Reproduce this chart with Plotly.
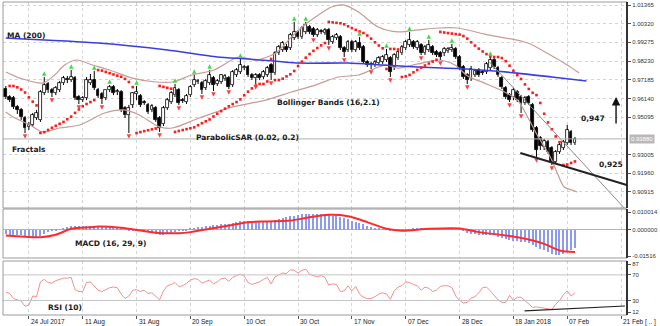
import plotly.graph_objects as go

# ---------------- data ----------------
bar_open = [
    0.9667, 0.9622, 0.9617, 0.9566, 0.9550, 0.9505, 0.9455, 0.9466, 0.9505, 0.9494,
    0.9645, 0.9695, 0.9661, 0.9645, 0.9661, 0.9700, 0.9723, 0.9717, 0.9728, 0.9622,
    0.9605, 0.9617, 0.9700, 0.9717, 0.9661, 0.9639, 0.9617, 0.9661, 0.9678, 0.9650,
    0.9650, 0.9561, 0.9522, 0.9578, 0.9639, 0.9628, 0.9594, 0.9578, 0.9550, 0.9561,
    0.9505, 0.9471, 0.9561, 0.9594, 0.9633, 0.9661, 0.9605, 0.9594, 0.9633, 0.9689,
    0.9706, 0.9700, 0.9673, 0.9700, 0.9728, 0.9695, 0.9706, 0.9723, 0.9728, 0.9689,
    0.9745, 0.9762, 0.9784, 0.9790, 0.9745, 0.9728, 0.9745, 0.9734, 0.9745, 0.9801,
    0.9756, 0.9868, 0.9885, 0.9902, 0.9896, 0.9952, 0.9986, 0.9958, 0.9986, 1.0014,
    1.0002, 0.9969, 0.9991, 0.9980, 0.9997, 0.9930, 0.9952, 0.9958, 0.9896, 0.9885,
    0.9930, 0.9885, 0.9924, 0.9902, 0.9818, 0.9807, 0.9801, 0.9812, 0.9818, 0.9829,
    0.9840, 0.9790, 0.9840, 0.9868, 0.9896, 0.9913, 0.9930, 0.9896, 0.9913, 0.9868,
    0.9885, 0.9902, 0.9874, 0.9868, 0.9868, 0.9879, 0.9885, 0.9891, 0.9846, 0.9790,
    0.9745, 0.9728, 0.9745, 0.9773, 0.9762, 0.9762, 0.9784, 0.9829, 0.9784, 0.9728,
    0.9673, 0.9633, 0.9622, 0.9650, 0.9622, 0.9589, 0.9622, 0.9578, 0.9449, 0.9393,
    0.9343, 0.9371, 0.9337, 0.9259, 0.9315, 0.9337, 0.9365, 0.9427, 0.9365,
]
bar_high = [
    0.9684, 0.9633, 0.9628, 0.9578, 0.9561, 0.9516, 0.9483, 0.9533, 0.9550, 0.9661,
    0.9734, 0.9706, 0.9673, 0.9684, 0.9712, 0.9740, 0.9740, 0.9773, 0.9740, 0.9633,
    0.9628, 0.9734, 0.9751, 0.9768, 0.9673, 0.9650, 0.9661, 0.9689, 0.9689, 0.9667,
    0.9661, 0.9572, 0.9578, 0.9650, 0.9684, 0.9639, 0.9605, 0.9589, 0.9583, 0.9572,
    0.9516, 0.9572, 0.9617, 0.9656, 0.9695, 0.9673, 0.9617, 0.9639, 0.9689, 0.9745,
    0.9723, 0.9712, 0.9723, 0.9773, 0.9740, 0.9723, 0.9748, 0.9751, 0.9740, 0.9773,
    0.9784, 0.9835, 0.9801, 0.9801, 0.9756, 0.9756, 0.9756, 0.9773, 0.9796, 0.9812,
    0.9879, 0.9913, 0.9935, 0.9919, 0.9980, 1.0042, 0.9997, 1.0019, 1.0042, 1.0025,
    1.0014, 1.0008, 1.0002, 1.0008, 1.0008, 0.9969, 0.9980, 0.9969, 0.9907, 0.9941,
    0.9941, 0.9941, 0.9958, 0.9913, 0.9829, 0.9818, 0.9829, 0.9851, 0.9857, 0.9891,
    0.9851, 0.9868, 0.9885, 0.9913, 0.9941, 0.9986, 0.9941, 0.9941, 0.9924, 0.9913,
    0.9941, 0.9913, 0.9885, 0.9879, 0.9902, 0.9902, 0.9919, 0.9902, 0.9857, 0.9801,
    0.9756, 0.9796, 0.9779, 0.9784, 0.9773, 0.9818, 0.9846, 0.9840, 0.9796, 0.9740,
    0.9684, 0.9645, 0.9673, 0.9661, 0.9633, 0.9628, 0.9633, 0.9589, 0.9460, 0.9404,
    0.9388, 0.9382, 0.9348, 0.9326, 0.9365, 0.9382, 0.9466, 0.9438, 0.9399,
]
bar_low = [
    0.9611, 0.9594, 0.9555, 0.9527, 0.9494, 0.9421, 0.9438, 0.9455, 0.9494, 0.9483,
    0.9633, 0.9645, 0.9622, 0.9633, 0.9650, 0.9689, 0.9700, 0.9706, 0.9605, 0.9583,
    0.9594, 0.9605, 0.9689, 0.9661, 0.9617, 0.9583, 0.9605, 0.9650, 0.9633, 0.9633,
    0.9538, 0.9505, 0.9421, 0.9561, 0.9605, 0.9566, 0.9578, 0.9527, 0.9538, 0.9483,
    0.9427, 0.9460, 0.9550, 0.9583, 0.9622, 0.9578, 0.9589, 0.9583, 0.9622, 0.9678,
    0.9695, 0.9639, 0.9661, 0.9689, 0.9656, 0.9684, 0.9695, 0.9712, 0.9667, 0.9678,
    0.9734, 0.9751, 0.9773, 0.9734, 0.9717, 0.9695, 0.9717, 0.9723, 0.9734, 0.9717,
    0.9745, 0.9857, 0.9874, 0.9874, 0.9885, 0.9941, 0.9947, 0.9947, 0.9974, 0.9974,
    0.9958, 0.9958, 0.9974, 0.9969, 0.9913, 0.9919, 0.9941, 0.9885, 0.9846, 0.9874,
    0.9874, 0.9874, 0.9885, 0.9807, 0.9790, 0.9779, 0.9790, 0.9801, 0.9807, 0.9818,
    0.9734, 0.9773, 0.9829, 0.9857, 0.9885, 0.9902, 0.9891, 0.9885, 0.9857, 0.9857,
    0.9874, 0.9857, 0.9846, 0.9829, 0.9851, 0.9868, 0.9874, 0.9835, 0.9773, 0.9723,
    0.9695, 0.9712, 0.9734, 0.9734, 0.9745, 0.9751, 0.9773, 0.9779, 0.9734, 0.9667,
    0.9611, 0.9594, 0.9605, 0.9594, 0.9533, 0.9578, 0.9578, 0.9427, 0.9287, 0.9326,
    0.9326, 0.9304, 0.9242, 0.9248, 0.9304, 0.9326, 0.9354, 0.9354, 0.9354,
]
bar_close = [
    0.9622, 0.9605, 0.9566, 0.9550, 0.9510, 0.9449, 0.9466, 0.9522, 0.9533, 0.9650,
    0.9689, 0.9661, 0.9645, 0.9673, 0.9700, 0.9728, 0.9717, 0.9734, 0.9617, 0.9605,
    0.9617, 0.9717, 0.9717, 0.9673, 0.9628, 0.9611, 0.9661, 0.9678, 0.9645, 0.9656,
    0.9550, 0.9522, 0.9561, 0.9645, 0.9650, 0.9578, 0.9589, 0.9538, 0.9572, 0.9494,
    0.9449, 0.9561, 0.9605, 0.9645, 0.9673, 0.9589, 0.9600, 0.9628, 0.9678, 0.9717,
    0.9712, 0.9661, 0.9712, 0.9745, 0.9689, 0.9712, 0.9745, 0.9740, 0.9678, 0.9762,
    0.9773, 0.9801, 0.9790, 0.9745, 0.9728, 0.9745, 0.9728, 0.9762, 0.9784, 0.9756,
    0.9868, 0.9902, 0.9924, 0.9885, 0.9969, 0.9986, 0.9958, 1.0008, 1.0025, 0.9986,
    0.9969, 0.9997, 0.9986, 0.9997, 0.9941, 0.9958, 0.9969, 0.9896, 0.9874, 0.9930,
    0.9885, 0.9930, 0.9896, 0.9818, 0.9801, 0.9801, 0.9818, 0.9840, 0.9846, 0.9857,
    0.9762, 0.9857, 0.9874, 0.9902, 0.9930, 0.9941, 0.9902, 0.9930, 0.9868, 0.9902,
    0.9913, 0.9868, 0.9857, 0.9846, 0.9891, 0.9891, 0.9896, 0.9846, 0.9784, 0.9734,
    0.9717, 0.9779, 0.9768, 0.9745, 0.9756, 0.9807, 0.9829, 0.9790, 0.9745, 0.9678,
    0.9622, 0.9605, 0.9661, 0.9605, 0.9589, 0.9617, 0.9589, 0.9438, 0.9326, 0.9348,
    0.9376, 0.9315, 0.9259, 0.9315, 0.9354, 0.9371, 0.9438, 0.9365, 0.9388,
]
bar_index = list(range(1, len(bar_close) + 1))

date_labels = ["24 Jul 2017", "11 Aug", "31 Aug", "20 Sep", "10 Oct", "30 Oct",
               "17 Nov", "07 Dec", "28 Dec", "18 Jan 2018", "07 Feb", "21 Feb [ .. ]"]
date_label_index = [7, 21, 35, 49, 63, 77, 91, 105, 119, 133, 147, 161]

ma200_index = [1, 25, 43, 56, 64, 77, 90, 99, 108, 121, 134, 143, 152]
ma200_value = [0.9952, 0.9924, 0.9885, 0.9846, 0.9835, 0.9812, 0.9812, 0.9801,
               0.9790, 0.9779, 0.9756, 0.9734, 0.9712]

bb_upper_index = [1, 4.7, 10.6, 13.7, 16.3, 19.4, 23.6, 28, 33.9, 40.1, 44.3, 49.4,
                  55.1, 61.6, 66, 71.2, 75.3, 79, 82.3, 85.7, 88.8, 92.7, 97.8, 103,
                  108.2, 113.4, 118.5, 125.5, 136.7, 142.6, 147, 150.1]
bb_upper_value = [0.9762, 0.9728, 0.9700, 0.9745, 0.9801, 0.9829, 0.9801, 0.9773,
                  0.9728, 0.9706, 0.9706, 0.9745, 0.9773, 0.9846, 0.9829, 0.9868,
                  0.9958, 1.0030, 1.0081, 1.0125, 1.0137, 1.0097, 1.0014, 0.9986,
                  0.9997, 1.0008, 1.0008, 0.9974, 0.9924, 0.9857, 0.9801, 0.9756]
bb_lower_index = [1, 2.9, 7.3, 10.6, 15, 20.2, 26.7, 31.8, 35.7, 40.9, 44.3, 51.3,
                  59.8, 68.6, 75.3, 81.5, 87.5, 92.7, 96, 99.7, 103, 108.2, 113.4,
                  117.8, 121.1, 125.5, 130.7, 134.1, 136.7, 139.2, 142.6, 144.4,
                  146.2, 148.3, 149.6]
bb_lower_value = [0.9538, 0.9510, 0.9466, 0.9427, 0.9449, 0.9466, 0.9533, 0.9550,
                  0.9522, 0.9455, 0.9449, 0.9505, 0.9566, 0.9605, 0.9650, 0.9689,
                  0.9734, 0.9745, 0.9773, 0.9801, 0.9784, 0.9807, 0.9829, 0.9801,
                  0.9740, 0.9700, 0.9650, 0.9605, 0.9510, 0.9410, 0.9287, 0.9197,
                  0.9119, 0.9102, 0.9091]

macd_hist = [
    -0.0028, -0.0029, -0.0030, -0.0032, -0.0034, -0.0040, -0.0046, -0.0048, -0.0046, -0.0036,
    -0.0024, -0.0016, -0.0010, -0.0005, 0.0002, 0.0009, 0.0015, 0.0020, 0.0021, 0.0022,
    0.0020, 0.0021, 0.0022, 0.0020, 0.0018, 0.0015, 0.0013, 0.0012, 0.0011, 0.0010,
    0.0006, 0.0000, -0.0004, -0.0006, -0.0005, -0.0008, -0.0010, -0.0015, -0.0019, -0.0025,
    -0.0032, -0.0030, -0.0024, -0.0018, -0.0012, -0.0010, -0.0008, -0.0004, 0.0003, 0.0010,
    0.0014, 0.0015, 0.0018, 0.0022, 0.0023, 0.0025, 0.0029, 0.0032, 0.0033, 0.0036,
    0.0044, 0.0047, 0.0048, 0.0046, 0.0044, 0.0043, 0.0043, 0.0045, 0.0047, 0.0048,
    0.0053, 0.0059, 0.0065, 0.0070, 0.0075, 0.0080, 0.0082, 0.0086, 0.0090, 0.0091,
    0.0090, 0.0089, 0.0088, 0.0087, 0.0083, 0.0080, 0.0076, 0.0070, 0.0064, 0.0058,
    0.0050, 0.0045, 0.0038, 0.0030, 0.0022, 0.0015, 0.0010, 0.0006, 0.0002, -0.0002,
    -0.0008, -0.0009, -0.0008, -0.0005, -0.0002, 0.0002, 0.0005, 0.0006, 0.0006, 0.0006,
    0.0007, 0.0007, 0.0007, 0.0006, 0.0007, 0.0008, 0.0008, 0.0005, -0.0002, -0.0010,
    -0.0020, -0.0026, -0.0028, -0.0030, -0.0030, -0.0029, -0.0030, -0.0034, -0.0040, -0.0048,
    -0.0055, -0.0062, -0.0065, -0.0068, -0.0070, -0.0073, -0.0078, -0.0088, -0.0102, -0.0112,
    -0.0120, -0.0128, -0.0138, -0.0146, -0.0143, -0.0138, -0.0125, -0.0118, -0.0108,
]
macd_signal_index = [1, 10, 14, 18, 23, 25, 31, 36, 40, 46, 49, 54, 59, 64, 69, 75,
                     80, 85, 90, 95, 100, 104, 111, 119, 124, 131, 137, 141, 145, 149]
macd_signal_value = [-0.0034, -0.0044, -0.0030, 0.0004, 0.0013, 0.0017, 0.0010,
                     -0.0006, -0.0019, -0.0021, -0.0015, 0.0004, 0.0023, 0.0042,
                     0.0046, 0.0051, 0.0070, 0.0084, 0.0076, 0.0042, 0.0004, -0.0007,
                     0.0004, 0.0006, -0.0015, -0.0034, -0.0057, -0.0082, -0.0120, -0.0129]

rsi_values = [
    43, 41, 33, 31, 29, 21, 23, 37, 36, 59,
    63, 58, 57, 61, 63, 65, 65, 66, 47, 44,
    44, 58, 59, 52, 46, 44, 47, 50, 51, 50,
    40, 33, 37, 46, 47, 44, 46, 41, 42, 36,
    31, 45, 53, 55, 58, 52, 53, 57, 62, 64,
    63, 57, 60, 62, 56, 59, 64, 65, 60, 66,
    69, 71, 68, 58, 55, 57, 59, 63, 66, 56,
    67, 70, 73, 72, 78, 77, 73, 77, 79, 71,
    69, 67, 69, 66, 54, 56, 55, 44, 45, 53,
    45, 52, 40, 35, 33, 33, 36, 40, 42, 40,
    32, 45, 51, 53, 59, 58, 55, 53, 46, 51,
    49, 44, 46, 52, 53, 53, 50, 37, 30, 26,
    27, 34, 36, 42, 50, 51, 45, 38, 31, 27,
    27, 38, 30, 35, 35, 30, 24, 19, 20, 19,
    19, 18, 16, 24, 30, 39, 45, 37, 42,
]

price_ticks = [1.01365, 1.00320, 0.99275, 0.98230, 0.97185, 0.96140, 0.95095,
               0.93005, 0.91960, 0.90915]
macd_ticks = [0.010014, 0.0, -0.01516]
macd_tick_text = ["0.010014", "0.000000", "-0.01516"]
rsi_ticks = [87, 70, 30, 12]

# drawn trend lines (bar index, value)
trend_down_x = [126.8, 162.5]
trend_down_y = [0.9818, 0.8986]
support_x = [134.8, 162.5]
support_y = [0.9309, 0.9130]
rsi_trend_x = [135.9, 162.0]
rsi_trend_y = [13.6, 21.4]

target_up_label = "0,947"
target_down_label = "0,925"

# ---------------- indicators computed from bars ----------------
def parabolic_sar(high, low, step=0.02, max_step=0.2):
    n = len(high)
    sar = [None] * n
    up = False
    ep = low[0]
    af = step
    sar[0] = high[0]
    for i in range(1, n):
        s = sar[i - 1] + af * (ep - sar[i - 1])
        if up:
            s = min(s, low[i - 1], low[i - 2] if i >= 2 else low[i - 1])
            if low[i] < s:
                up, s, ep, af = False, ep, low[i], step
            elif high[i] > ep:
                ep, af = high[i], min(af + step, max_step)
        else:
            s = max(s, high[i - 1], high[i - 2] if i >= 2 else high[i - 1])
            if high[i] > s:
                up, s, ep, af = True, ep, high[i], step
            elif low[i] < ep:
                ep, af = low[i], min(af + step, max_step)
        sar[i] = s
    return sar


def fractals(high, low):
    # a fractal is confirmed only once two later bars have closed
    ups, downs = [], []
    n = len(high)
    for i in range(2, n - 3):
        if high[i] > max(high[i - 2:i]) and high[i] >= max(high[i + 1:i + 3]):
            ups.append(i)
        if low[i] < min(low[i - 2:i]) and low[i] <= min(low[i + 1:i + 3]):
            downs.append(i)
    return ups, downs


sar = parabolic_sar(bar_high, bar_low)
frac_up, frac_dn = fractals(bar_high, bar_low)

# ---------------- geometry ----------------
FIG_W, FIG_H = 660, 326
ML, MR, MT, MB = 3, 30, 2, 11
PLOT_W = FIG_W - ML - MR
PLOT_H = FIG_H - MT - MB


def px(x):
    return (x - ML) / PLOT_W


def py(y):
    return (FIG_H - MB - y) / PLOT_H


main_dom = [py(208), 1.0]
macd_dom = [py(258), py(209)]
rsi_dom = [0.0, py(261)]
X_RANGE = [0.27, 162.54]

GRID = "#d4d4d4"
TICKFONT = dict(family="Liberation Sans", size=6, color="#333333")
LABELFONT = dict(family="DejaVu Sans", size=7.5, color="#1a1a1a")

fig = go.Figure()

# candle wicks (split so they never cross white bodies)
wx, wy = [], []
for i, o, h, l, c in zip(bar_index, bar_open, bar_high, bar_low, bar_close):
    top, bot = max(o, c), min(o, c)
    wx += [i, i, None, i, i, None]
    wy += [h, top, None, bot, l, None]
fig.add_trace(go.Scatter(x=wx, y=wy, mode="lines", line=dict(color="#000000", width=1),
                         hoverinfo="skip", xaxis="x", yaxis="y"))

for is_up, fill in [(True, "#ffffff"), (False, "#000000")]:
    xs, base, hgt = [], [], []
    for i, o, c in zip(bar_index, bar_open, bar_close):
        if (c >= o) == is_up:
            xs.append(i)
            base.append(min(o, c))
            hgt.append(max(abs(c - o), 0.00025))
    fig.add_trace(go.Bar(x=xs, y=hgt, base=base, width=0.72,
                         marker=dict(color=fill, line=dict(color="#000000", width=0.8)),
                         xaxis="x", yaxis="y", hoverinfo="skip"))

# Bollinger bands
fig.add_trace(go.Scatter(x=bb_upper_index, y=bb_upper_value, mode="lines",
                         line=dict(color="#c79b98", width=1.2, shape="spline", smoothing=0.8),
                         xaxis="x", yaxis="y", hoverinfo="skip"))
fig.add_trace(go.Scatter(x=bb_lower_index, y=bb_lower_value, mode="lines",
                         line=dict(color="#c79b98", width=1.2, shape="spline", smoothing=0.8),
                         xaxis="x", yaxis="y", hoverinfo="skip"))

# MA(200)
fig.add_trace(go.Scatter(x=ma200_index, y=ma200_value, mode="lines",
                         line=dict(color="#3a3ee0", width=1.6, shape="spline", smoothing=0.6),
                         xaxis="x", yaxis="y", hoverinfo="skip"))

# Parabolic SAR
fig.add_trace(go.Scatter(x=bar_index[1:], y=sar[1:], mode="markers",
                         marker=dict(symbol="square", size=2.6, color="#ff1a1a", line=dict(width=0)),
                         xaxis="x", yaxis="y", hoverinfo="skip"))

# fractals
fig.add_trace(go.Scatter(x=[bar_index[i] for i in frac_up],
                         y=[bar_high[i] + 0.0032 for i in frac_up], mode="markers",
                         marker=dict(symbol="arrow-up", size=4.5, color="#44d844", line=dict(width=0)),
                         xaxis="x", yaxis="y", hoverinfo="skip"))
fig.add_trace(go.Scatter(x=[bar_index[i] for i in frac_dn],
                         y=[bar_low[i] - 0.0032 for i in frac_dn], mode="markers",
                         marker=dict(symbol="arrow-down", size=4.5, color="#ff4040", line=dict(width=0)),
                         xaxis="x", yaxis="y", hoverinfo="skip"))

# trend lines
fig.add_trace(go.Scatter(x=trend_down_x, y=trend_down_y, mode="lines",
                         line=dict(color="#8a8a8a", width=1), xaxis="x", yaxis="y", hoverinfo="skip"))
fig.add_trace(go.Scatter(x=support_x, y=support_y, mode="lines",
                         line=dict(color="#222222", width=2), xaxis="x", yaxis="y", hoverinfo="skip"))

# MACD
fig.add_trace(go.Bar(x=bar_index, y=macd_hist, width=0.32,
                     marker=dict(color="#8c9bf2", line=dict(width=0)),
                     xaxis="x2", yaxis="y2", hoverinfo="skip"))
fig.add_trace(go.Scatter(x=macd_signal_index, y=macd_signal_value, mode="lines",
                         line=dict(color="#ff2a2a", width=2, shape="spline", smoothing=0.8),
                         xaxis="x2", yaxis="y2", hoverinfo="skip"))

# RSI
fig.add_trace(go.Scatter(x=bar_index, y=rsi_values, mode="lines",
                         line=dict(color="#f29090", width=1),
                         xaxis="x3", yaxis="y3", hoverinfo="skip"))
fig.add_trace(go.Scatter(x=rsi_trend_x, y=rsi_trend_y, mode="lines",
                         line=dict(color="#222222", width=1.2), xaxis="x3", yaxis="y3", hoverinfo="skip"))

last_close = bar_close[-1]

xcommon = dict(range=X_RANGE, tickvals=date_label_index, showticklabels=False,
               showgrid=True, gridcolor=GRID, griddash="dot", gridwidth=1,
               zeroline=False, showline=False, fixedrange=True)

fig.update_layout(
    width=FIG_W, height=FIG_H,
    margin=dict(l=ML, r=MR, t=MT, b=MB),
    paper_bgcolor="#ffffff", plot_bgcolor="#ffffff",
    showlegend=False, barmode="overlay", bargap=0,
    xaxis=dict(anchor="y", domain=[0, 1], ticks="", **xcommon),
    xaxis2=dict(anchor="y2", domain=[0, 1], matches="x", ticks="", **xcommon),
    xaxis3=dict(anchor="y3", domain=[0, 1], matches="x", ticks="outside", ticklen=3,
                tickcolor="#555555", **xcommon),
    yaxis=dict(domain=main_dom, side="right", range=[0.90018, 1.01533],
               tickvals=price_ticks, ticktext=[f"{v:.5f}" for v in price_ticks],
               tickfont=TICKFONT, ticks="outside", ticklen=3, tickcolor="#555555",
               showgrid=True, gridcolor=GRID, griddash="dot", zeroline=False, fixedrange=True),
    yaxis2=dict(domain=macd_dom, side="right", range=[-0.0163, 0.01173],
                tickvals=macd_ticks, ticktext=macd_tick_text, tickfont=TICKFONT,
                ticks="outside", ticklen=3, tickcolor="#555555",
                showgrid=False, zeroline=True, zerolinecolor="#b5b5b5", zerolinewidth=1,
                fixedrange=True),
    yaxis3=dict(domain=rsi_dom, side="right", range=[7.31, 91.69],
                tickvals=rsi_ticks, ticktext=[str(v) for v in rsi_ticks], tickfont=TICKFONT,
                ticks="outside", ticklen=3, tickcolor="#555555",
                showgrid=False, zeroline=False, fixedrange=True),
)

shapes = []
# RSI 70 / 30 levels
for lvl in (70, 30):
    shapes.append(dict(type="line", xref="x3 domain", yref="y3", x0=0, x1=1, y0=lvl, y1=lvl,
                       line=dict(color="#c4c4c4", width=1)))
# current price line
shapes.append(dict(type="line", xref="x domain", yref="y", x0=0, x1=1,
                   y0=last_close, y1=last_close, line=dict(color="#b0b0b0", width=1)))
# panel frames
for dom in (main_dom, macd_dom, rsi_dom):
    shapes.append(dict(type="rect", xref="paper", yref="paper", x0=0, x1=1,
                       y0=dom[0], y1=dom[1], line=dict(color="#9a9a9a", width=1)))
    shapes.append(dict(type="line", xref="paper", yref="paper", x0=1, x1=1,
                       y0=dom[0], y1=dom[1], line=dict(color="#000000", width=1.5)))
fig.update_layout(shapes=shapes)

ann = []
for idx, lab in zip(date_label_index, date_labels):
    ann.append(dict(x=idx, y=0, xref="x3", yref="paper", text=lab, showarrow=False,
                    xanchor="left", yanchor="top", yshift=-1,
                    font=dict(family="Liberation Sans", size=6.5, color="#222222")))
# current price tag
ann.append(dict(x=1, y=last_close, xref="paper", yref="y", text=f"{last_close:.5f}",
                showarrow=False, xanchor="left", yanchor="middle", xshift=2,
                bgcolor="#b8b8b8", font=dict(family="Liberation Sans", size=6, color="#ffffff"),
                borderpad=1))
# indicator captions
captions = [
    ("MA (200)", 5, 35),
    ("Fractals", 10, 149),
    ("ParabolicSAR (0.02, 0.2)", 195, 137),
    ("Bollinger Bands (16,2.1)", 276, 103),
    ("MACD (16, 29, 9)", 73, 243),
    ("RSI (10)", 46, 307),
    (target_up_label, 582, 118),
    (target_down_label, 600, 164),
]
for text, x0, y0 in captions:
    ann.append(dict(x=px(x0), y=py(y0), xref="paper", yref="paper", text=f"<b>{text}</b>",
                    showarrow=False, xanchor="left", yanchor="middle", font=LABELFONT))
# upward arrow
ann.append(dict(x=px(619), y=py(97), xref="paper", yref="paper", text="", showarrow=True,
                ax=0, ay=28, arrowhead=2, arrowsize=1.2, arrowwidth=1.4, arrowcolor="#111111"))
fig.update_layout(annotations=ann)

fig.write_html("out.html")
